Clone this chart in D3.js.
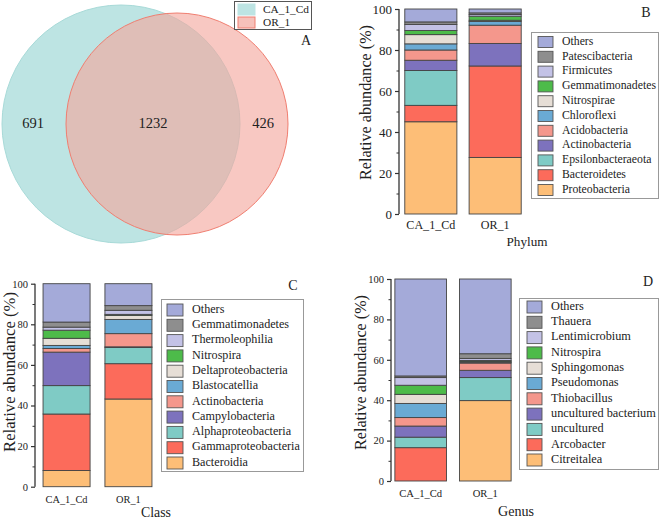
<!DOCTYPE html>
<html><head><meta charset="utf-8">
<script src="https://cdn.jsdelivr.net/npm/d3@7/dist/d3.min.js"></script>
<style>body{margin:0;background:#fff}svg{display:block}</style>
</head><body><svg id="c" width="661" height="519"></svg>
<script>
// ---------- DATA ----------
const samples = ["CA_1_Cd", "OR_1"];
const vennSets = ["CA_1_Cd", "OR_1"];
const vennCounts = [691, 1232, 426]; // only CA, shared, only OR

const phylumNames = ["Proteobacteria","Bacteroidetes","Epsilonbacteraeota","Actinobacteria","Acidobacteria","Chloroflexi","Nitrospirae","Gemmatimonadetes","Firmicutes","Patescibacteria","Others"];
const phylumCA = [45.0, 8.0, 17.0, 5.0, 5.0, 3.0, 4.5, 2.0, 3.0, 1.2, 6.3];
const phylumOR = [27.6, 44.6, 0, 11.0, 8.9, 1.8, 0.6, 2.0, 0.8, 0.8, 1.9];

const classNames = ["Bacteroidia","Gammaproteobacteria","Alphaproteobacteria","Campylobacteria","Actinobacteria","Blastocatellia","Deltaproteobacteria","Nitrospira","Thermoleophilia","Gemmatimonadetes","Others"];
const classCA = [8.0, 27.8, 14.0, 16.5, 1.8, 1.5, 3.5, 4.0, 1.5, 2.5, 18.9];
const classOR = [43.2, 17.4, 8.0, 0.3, 6.5, 7.0, 2.0, 0.5, 2.0, 2.3, 10.8];

const genusNames = ["Citreitalea","Arcobacter","uncultured","uncultured bacterium","Thiobacillus","Pseudomonas","Sphingomonas","Nitrospira","Lentimicrobium","Thauera","Others"];
const genusCA = [0, 16.5, 5.2, 5.5, 4.2, 7.0, 4.5, 4.5, 3.8, 0.8, 48.0];
const genusOR = [39.8, 0, 11.4, 3.6, 3.6, 0.3, 0.5, 0.5, 1.0, 2.3, 37.0];

const yTicks = [0, 20, 40, 60, 80, 100];
const palette = ["#fdbe77","#fc6b5b","#7fcbc5","#7d72bd","#f4978c","#6aaad4","#e6ded6","#4dbb4a","#c3c2e6","#8e8e8e","#a4aad9"];

const FONT = "'Liberation Serif', 'Times New Roman', 'DejaVu Serif', serif";
const svg = d3.select("#c").attr("font-family", FONT);
function T(sel){ return sel.append("text").attr("font-family", FONT).attr("fill", "#222"); }
// scale font of a group of texts so that the widest one has the target width
function fit(texts, target){
  let maxW = 0;
  texts.forEach(t=>{ maxW = Math.max(maxW, t.node().getComputedTextLength()); });
  if (maxW > 0) texts.forEach(t=>{ const fs = +t.attr("font-size"); t.attr("font-size", fs*target/maxW); });
}

// ---------- VENN ----------
(function(){
  const g = svg.append("g");
  const rA = 119, rB = 111;
  const cA = [121, 124], cB = [177, 124];
  g.append("circle").attr("cx", cA[0]).attr("cy", cA[1]).attr("r", rA)
    .attr("fill", "#bde4e3").attr("stroke", "#a8dad8").attr("stroke-width", 1);
  g.append("circle").attr("cx", cB[0]).attr("cy", cB[1]).attr("r", rB)
    .attr("fill", "#f3a69c").attr("fill-opacity", 0.62).attr("stroke", "#f07e70").attr("stroke-width", 1);
  const pos = [[33,125],[153,125],[263,125]];
  const nums = vennCounts.map((v,i)=> T(g).attr("x", pos[i][0]).attr("y", pos[i][1]).attr("text-anchor","middle")
      .attr("dominant-baseline","middle").attr("font-size", 15).text(v));
  fit([nums[1]], 29);
  nums[0].attr("font-size", nums[1].attr("font-size")); nums[2].attr("font-size", nums[1].attr("font-size"));
  const lg = g.append("g");
  lg.append("rect").attr("x",234.5).attr("y",1.5).attr("width",77).attr("height",28).attr("fill","#fff").attr("stroke","#555");
  const sw = ["#bde4e3", "#f6c1ba"];
  const sst = ["#bde4e3", "#f07e70"];
  const lt = vennSets.map((s,i)=>{
    lg.append("rect").attr("x",238).attr("y",4+i*13).attr("width",17).attr("height",11).attr("fill",sw[i]).attr("stroke",sst[i]);
    return T(lg).attr("x",263).attr("y",10+i*13).attr("dominant-baseline","middle").attr("font-size",12).text(s);
  });
  fit(lt, 46);
  T(g).attr("x",306).attr("y",42).attr("text-anchor","middle").attr("dominant-baseline","middle").attr("font-size",14).text("A");
})();

// ---------- STACKED PANELS ----------
function panel(o){
  const g = svg.append("g");
  const y = d3.scaleLinear().domain([0,100]).range([o.y0, o.y1]);
  const x = d3.scaleBand().domain(samples).range([o.xL, o.xR]).paddingInner(o.padI).paddingOuter(o.padO);
  const vals = [o.a, o.b];
  samples.forEach((s, si)=>{
    let acc = 0;
    vals[si].forEach((v, k)=>{
      if (v <= 0) return;
      g.append("rect").attr("x", x(s)).attr("width", x.bandwidth())
        .attr("y", y(acc+v)).attr("height", y(acc)-y(acc+v))
        .attr("fill", palette[k]).attr("stroke","#444").attr("stroke-width",0.9);
      acc += v;
    });
  });
  const ax = g.append("g").attr("transform", `translate(${o.axX},0)`)
    .call(d3.axisLeft(y).tickValues(yTicks).tickSize(4).tickPadding(3).tickFormat(d3.format("d")));
  ax.attr("font-family", FONT);
  ax.select(".domain").attr("stroke","#333").attr("stroke-width",1.3).attr("d", `M0,${o.y0}V${o.y1}`);
  ax.selectAll(".tick line").attr("stroke","#333").attr("stroke-width",1.2);
  ax.selectAll(".tick text").attr("font-size", o.tickFs).attr("font-family",FONT).attr("fill","#222");
  const minor = g.append("g").attr("transform", `translate(${o.axX},0)`)
    .call(d3.axisLeft(y).tickValues([10,30,50,70,90]).tickSize(2.5).tickFormat(""));
  minor.select(".domain").remove();
  minor.selectAll(".tick line").attr("stroke","#333");
  const xl = samples.map(s=> T(g).attr("x", x(s)+x.bandwidth()/2).attr("y", o.xlabY).attr("text-anchor","middle")
      .attr("font-size", 12).text(s));
  fit(xl, o.xW);
  const tt = T(g).attr("x", o.titleX).attr("y", o.titleY).attr("text-anchor","middle").attr("font-size", 14).text(o.title);
  fit([tt], o.titleW);
  const yl = T(g).attr("transform", `translate(${o.ylab[0]},${o.ylab[1]}) rotate(-90)`).attr("text-anchor","middle")
    .attr("dominant-baseline","middle").attr("font-size", 14).text("Relative abundance (%)");
  fit([yl], o.ylabW);
  T(g).attr("x", o.letter[0]).attr("y", o.letter[1]).attr("text-anchor","middle").attr("dominant-baseline","middle")
    .attr("font-size", 14).text(o.letterT);
  const L = o.leg;
  g.append("rect").attr("x",L.x).attr("y",L.y).attr("width",L.w).attr("height",L.h).attr("fill","#fff").attr("stroke","#999");
  const names = o.names.slice().reverse();
  const lts = names.map((n,i)=>{
    const k = o.names.length-1-i;
    const cy = L.first + i*L.step;
    g.append("rect").attr("x",L.sx).attr("y",cy-L.sh/2).attr("width",L.sw).attr("height",L.sh)
      .attr("fill",palette[k]).attr("stroke","#555").attr("stroke-width",0.9);
    return T(g).attr("x",L.tx).attr("y",cy).attr("dominant-baseline","middle").attr("font-size",12).text(n);
  });
  fit(lts, L.tw);
}

panel({a:phylumCA,b:phylumOR,names:phylumNames,
  y0:214,y1:9,xL:399,xR:527,padI:0.19,padO:0.09,axX:399,tickFs:13,xW:49,
  xlabY:229,title:"Phylum",titleX:527,titleY:246,titleW:41,ylab:[367,102.5],ylabW:155,
  letter:[646,14],letterT:"B",
  leg:{x:531.5,y:32.5,w:127,h:166,first:42,step:14.8,sx:538,sw:15,sh:11,tx:562,tw:94}});

panel({a:classCA,b:classOR,names:classNames,
  y0:486.7,y1:283.7,xL:35,xR:160,padI:0.24,padO:0.13,axX:35,tickFs:10.5,xW:42,
  xlabY:503,title:"Class",titleX:156,titleY:517,titleW:30,ylab:[11,372],ylabW:160,
  letter:[293,287],letterT:"C",
  leg:{x:161.5,y:299.5,w:142,h:172,first:310,step:15.3,sx:167,sw:16,sh:12,tx:192,tw:108}});

panel({a:genusCA,b:genusOR,names:genusNames,
  y0:481,y1:279,xL:391,xR:515,padI:0.20,padO:0.06,axX:391,tickFs:10.5,xW:43,
  xlabY:497,title:"Genus",titleX:516,titleY:516,titleW:36,ylab:[362,372.5],ylabW:155,
  letter:[648,283],letterT:"D",
  leg:{x:519.5,y:298.5,w:139,h:171,first:307,step:15.3,sx:527,sw:15,sh:12,tx:551,tw:105}});
</script></body></html>
